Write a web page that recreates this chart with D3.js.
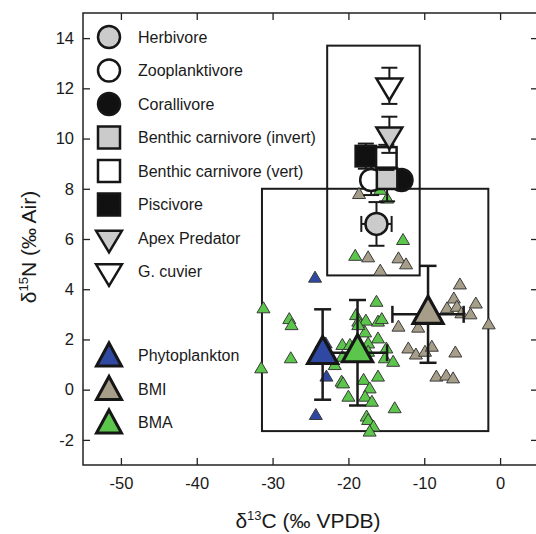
<!DOCTYPE html>
<html>
<head>
<meta charset="utf-8">
<script src="https://cdn.jsdelivr.net/npm/d3@7"></script>
<style>
body{margin:0;background:#fff;}
text{font-family:"Liberation Sans",Arial,sans-serif;fill:#1a1a1a;}
</style>
</head>
<body>
<div id="chart"></div>
<script>
// range boxes [xmin, xmax, ymin, ymax]
var boxFish = [-22.8, -10.6, 4.55, 13.7]
var boxBase = [-31.4, -1.55, -1.65, 8.0]

// small source points
var phytoX = [-24.4, -23.0, -22.9, -24.3]
var phytoY = [4.5, 1.88, 0.56, -0.97]

var bmiX = [-18.6, -17.4, -13.4, -12.4, -15.8, -5.3, -6.1, -3.2, -7.0, -5.7, -5.1, -3.9, -1.5,
            -13.4, -10.8, -12.1, -11.1, -9.9, -9.0, -5.9, -8.4, -7.1, -6.2]
var bmiY = [7.83, 5.31, 5.27, 5.03, 4.78, 4.23, 3.67, 3.47, 3.28, 3.34, 3.08, 3.04, 2.64,
            2.55, 2.51, 1.68, 1.44, 1.55, 1.75, 1.52, 0.56, 0.60, 0.49]

var bmaX = [-31.2, -27.8, -27.5, -27.6, -31.5, -16.3, -19.0, -18.7, -17.7, -16.1, -15.6, -17.8,
            -16.1, -20.8, -19.8, -17.4, -20.8, -21.8, -17.4, -15.0, -15.2, -14.1, -20.9, -20.7,
            -18.0, -16.1, -17.2, -17.8, -20.0, -16.9, -13.9, -17.6, -17.4, -16.7, -17.2, -19.1,
            -12.8, -14.9, -15.8, -18.7]
var bmaY = [3.28, 2.85, 2.61, 1.29, 0.89, 3.54, 3.01, 2.75, 2.79, 2.75, 2.85, 2.32,
            2.08, 1.82, 1.82, 1.88, 1.35, 1.02, 1.55, 1.68, 1.29, 1.15, 0.36, 0.29,
            0.43, 0.56, 0.09, -0.24, -0.24, -0.44, -0.70, -1.03, -1.17, -1.43, -1.63, 5.37,
            6.0, 7.65, 8.0, 2.61]

// source means
var srcNames = ["Phytoplankton", "BMI", "BMA"]
var srcX = [-23.4, -9.5, -18.8]
var srcY = [1.4, 3.0, 1.47]
var srcXerr = [0.8, 4.7, 3.9]
var srcYerr = [1.8, 1.93, 2.1]

// fish guild means
var fishNames = ["Herbivore", "Zooplanktivore", "Corallivore", "Benthic carnivore (invert)",
                 "Benthic carnivore (vert)", "Piscivore", "Apex Predator", "G. cuvier"]
var fishX = [-16.3, -17.0, -13.0, -14.9, -15.0, -17.7, -14.6, -14.6]
var fishY = [6.6, 8.35, 8.35, 8.4, 9.25, 9.3, 10.15, 12.1]
var fishXerr = [2.0, 0.4, 0.3, 0.5, 0.3, 0.3, 0, 0]
var fishYerr = [0.87, 0.6, 0.3, 0.9, 0.5, 0.5, 0.72, 0.72]

var xTicks = [-50, -40, -30, -20, -10, 0]
var yTicks = [-2, 0, 2, 4, 6, 8, 10, 12, 14]

// styles
var srcFill = {"Phytoplankton": "#2f49a3", "BMI": "#a69e89", "BMA": "#5cc64c"}
var fishShape = ["circle", "circle", "circle", "square", "square", "square", "down", "down"]
var fishFill = ["#cbcbcb", "#ffffff", "#111111", "#cbcbcb", "#ffffff", "#111111", "#cbcbcb", "#ffffff"]
var drawOrder = [2, 1, 3, 5, 4, 0, 6, 7]

var w = 536, h = 534
var svg = d3.select("#chart").append("svg")
    .attr("width", w).attr("height", h)

var x = d3.scaleLinear().domain([-55, 5]).range([83, 538])
var y = d3.scaleLinear().domain([-3, 15]).range([465, 13])

// triangle path, centered on bbox (or centroid)
function tri(tw, th, down, centroid){
  var top = centroid ? -2*th/3 : -th/2
  var bot = centroid ? th/3 : th/2
  if(down){ var t = top; top = -bot; bot = -t }
  var apex = down ? bot : top
  var base = down ? top : bot
  return `M0,${apex}L${tw/2},${base}L${-tw/2},${base}Z`
}

// frame + ticks
svg.append("rect")
    .attr("x", x(-55)).attr("y", y(15))
    .attr("width", x(5) - x(-55)).attr("height", y(-3) - y(15))
    .attr("fill", "none").attr("stroke", "#222").attr("stroke-width", 1.5)

var fmt = d => String(d)
svg.append("g").attr("transform", `translate(0,${y(-3)})`)
    .call(d3.axisBottom(x).tickValues(xTicks).tickSize(-7).tickPadding(12).tickFormat(fmt))
svg.append("g").attr("transform", `translate(0,${y(15)})`)
    .call(d3.axisTop(x).tickValues(xTicks).tickSize(-7).tickFormat(""))
svg.append("g").attr("transform", `translate(${x(-55)},0)`)
    .call(d3.axisLeft(y).tickValues(yTicks).tickSize(-7).tickPadding(9).tickFormat(fmt))
svg.append("g").attr("transform", `translate(${x(5)},0)`)
    .call(d3.axisRight(y).tickValues(yTicks).tickSize(-7).tickFormat(""))
svg.selectAll(".domain").remove()
svg.selectAll(".tick line").attr("stroke", "#222").attr("stroke-width", 1.3)
svg.selectAll(".tick text").style("font-size", "16.5px").attr("fill", "#1a1a1a")
  .style("font-family", "Liberation Sans, Arial, sans-serif")

// axis titles
var xt = svg.append("text").attr("x", 308).attr("y", 528)
    .attr("text-anchor", "middle").style("font-size", "21px")
xt.append("tspan").text("δ")
xt.append("tspan").attr("dy", -8).style("font-size", "13px").text("13")
xt.append("tspan").attr("dy", 8).text("C (‰ VPDB)")

var yt = svg.append("text").attr("transform", "translate(36,247) rotate(-90)")
    .attr("text-anchor", "middle").style("font-size", "21px")
yt.append("tspan").text("δ")
yt.append("tspan").attr("dy", -8).style("font-size", "13px").text("15")
yt.append("tspan").attr("dy", 8).text("N (‰ Air)")

// range boxes
;[boxFish, boxBase].forEach(function(b){
  svg.append("rect")
    .attr("x", x(b[0])).attr("y", y(b[3]))
    .attr("width", x(b[1]) - x(b[0])).attr("height", y(b[2]) - y(b[3]))
    .attr("fill", "none").attr("stroke", "#1a1a1a").attr("stroke-width", 2)
})

// small points
function smallPts(xs, ys, fill){
  svg.append("g").selectAll("path")
    .data(xs.map((d, i) => [d, ys[i]]))
    .enter().append("path")
      .attr("d", tri(13, 11, false, false))
      .attr("transform", d => `translate(${x(d[0])},${y(d[1])})`)
      .attr("fill", fill).attr("stroke", "#3a3a3a").attr("stroke-width", 1)
}
smallPts(bmiX, bmiY, srcFill.BMI)
smallPts(bmaX, bmaY, srcFill.BMA)
smallPts(phytoX, phytoY, srcFill.Phytoplankton)

// error bars
function errBar(g, cx, cy, ex, ey, cap, sw){
  var px = x(cx), py = y(cy)
  if(ey > 0){
    var y0 = y(cy - ey), y1 = y(cy + ey)
    g.append("line").attr("x1", px).attr("x2", px).attr("y1", y0).attr("y2", y1)
    g.append("line").attr("x1", px - cap/2).attr("x2", px + cap/2).attr("y1", y0).attr("y2", y0)
    g.append("line").attr("x1", px - cap/2).attr("x2", px + cap/2).attr("y1", y1).attr("y2", y1)
  }
  if(ex > 0){
    var x0 = x(cx - ex), x1 = x(cx + ex)
    g.append("line").attr("x1", x0).attr("x2", x1).attr("y1", py).attr("y2", py)
    g.append("line").attr("x1", x0).attr("x2", x0).attr("y1", py - cap/2).attr("y2", py + cap/2)
    g.append("line").attr("x1", x1).attr("x2", x1).attr("y1", py - cap/2).attr("y2", py + cap/2)
  }
  g.selectAll("line").attr("stroke", "#1a1a1a").attr("stroke-width", sw)
}

// source means
srcNames.forEach(function(n, i){
  var g = svg.append("g")
  errBar(g, srcX[i], srcY[i], srcXerr[i], srcYerr[i], 17, 2.5)
})
srcNames.forEach(function(n, i){
  svg.append("path")
    .attr("d", tri(30, 27, false, true))
    .attr("transform", `translate(${x(srcX[i])},${y(srcY[i])})`)
    .attr("fill", srcFill[n]).attr("stroke", "#161616").attr("stroke-width", 3.2)
    .attr("stroke-linejoin", "miter")
})

// fish means
function fishSym(g, shape, fill, size){
  var el
  if(shape == "circle"){
    el = g.append("circle").attr("r", size/2)
  }else if(shape == "square"){
    el = g.append("rect").attr("x", -size/2).attr("y", -size/2).attr("width", size).attr("height", size)
  }else{
    el = g.append("path").attr("d", tri(size*1.1, size*0.92, true, true))
  }
  el.attr("fill", fill).attr("stroke", "#161616").attr("stroke-width", 2.5)
  return el
}
drawOrder.forEach(function(i){
  var g = svg.append("g")
  errBar(g, fishX[i], fishY[i], fishXerr[i], fishYerr[i], 16, 2)
  var s = g.append("g").attr("transform", `translate(${x(fishX[i])},${y(fishY[i])})`)
  fishSym(s, fishShape[i], fishFill[i], fishShape[i] == "down" ? 23.5 : (fishShape[i] == "circle" ? 22 : 20.5))
})

// legend
var leg = svg.append("g")
var legRows = [37, 70.5, 104, 137.5, 171, 204.5, 238, 271.5]
fishNames.forEach(function(n, i){
  var s = leg.append("g").attr("transform", `translate(109,${legRows[i]})`)
  fishSym(s, fishShape[i], fishFill[i], fishShape[i] == "down" ? 23.5 : 22)
  leg.append("text").attr("x", 138).attr("y", legRows[i]).attr("dy", "0.36em")
    .style("font-size", "16px").text(n)
})
var legRows2 = [355.5, 389, 422.5]
srcNames.forEach(function(n, i){
  leg.append("path")
    .attr("d", tri(25, 23, false, false))
    .attr("transform", `translate(109,${legRows2[i] - 1})`)
    .attr("fill", srcFill[n]).attr("stroke", "#161616").attr("stroke-width", 3)
  leg.append("text").attr("x", 138).attr("y", legRows2[i]).attr("dy", "0.36em")
    .style("font-size", "16px").text(n)
})
</script>
</body>
</html>
